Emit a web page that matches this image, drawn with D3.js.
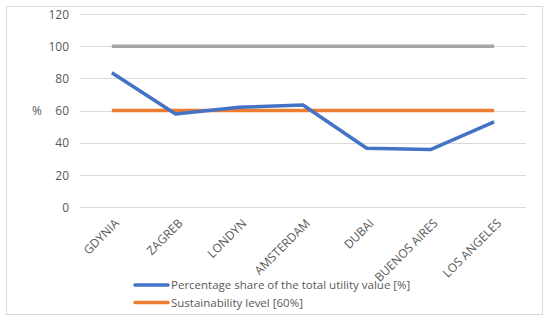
<!DOCTYPE html>
<html><head><meta charset="utf-8">
<script src="https://cdn.jsdelivr.net/npm/d3@7"></script>
<style>body{margin:0;background:#fff}svg{display:block}text{font-family:"Open Sans","Liberation Sans",sans-serif;fill:#595959}</style>
</head><body><svg id="c" width="550" height="322"></svg>
<script>
const categories = ["GDYNIA","ZAGREB","LONDYN","AMSTERDAM","DUBAI","BUENOS AIRES","LOS ANGELES"];
const utilityShare = [83.5, 57.8, 62, 63.4, 36.5, 35.7, 52.9];
const sustainability = [60, 60, 60, 60, 60, 60, 60];
const maxLevel = [100, 100, 100, 100, 100, 100, 100];
const yTicks = [0, 20, 40, 60, 80, 100, 120];
const legendLabels = ["Percentage share of the total utility value [%]", "Sustainability level [60%]"];

const svg = d3.select("#c");
svg.append("rect").attr("x",6.5).attr("y",6.5).attr("width",536).attr("height",308)
  .attr("fill","#fff").attr("stroke","#d9d9d9");

const x = d3.scaleBand().domain(categories).range([80, 526]);
const y = d3.scaleLinear().domain([0,120]).range([207, 14]);

const grid = svg.append("g");
grid.selectAll("line").data(yTicks).join("line")
  .attr("x1",80).attr("x2",526).attr("y1",d=>Math.round(y(d))+0.5).attr("y2",d=>Math.round(y(d))+0.5)
  .attr("stroke","#d9d9d9").attr("stroke-width",1);

const yAxis = svg.append("g").attr("transform","translate(75,0)")
  .call(d3.axisLeft(y).tickValues(yTicks).tickSize(0).tickPadding(6));
yAxis.select(".domain").remove();
yAxis.selectAll("text").style("font-size","12px").attr("fill","#595959").attr("dy","0.35em");

svg.append("text").attr("x",37).attr("y",y(60)).attr("dy","0.35em").attr("text-anchor","middle")
  .style("font-size","12px").text("%");

const xAxis = svg.append("g").attr("transform","translate(0,207)")
  .call(d3.axisBottom(x).tickSize(0).tickPadding(0));
xAxis.select(".domain").remove();
xAxis.selectAll("text").style("font-size","12px").attr("fill","#595959")
  .attr("text-anchor","end").attr("dy",0).attr("y",0)
  .attr("transform","translate(8,17) rotate(-45)");

const cx = d => x(d) + x.bandwidth()/2;
const line = d3.line().x((d,i)=>cx(categories[i])).y(d=>y(d));
svg.append("path").datum(maxLevel).attr("d",line).attr("fill","none").attr("stroke","#A5A5A5").attr("stroke-width",3.5);
svg.append("path").datum(sustainability).attr("d",line).attr("fill","none").attr("stroke","#ED7D31").attr("stroke-width",3.5);
svg.append("path").datum(utilityShare).attr("d",line).attr("fill","none").attr("stroke","#4472C4").attr("stroke-width",3.5).attr("stroke-linejoin","round");

const legColors = ["#4472C4","#ED7D31"];
const leg = svg.append("g");
legendLabels.forEach((t,i)=>{
  const ly = 285 + i*17.5;
  leg.append("line").attr("x1",135).attr("x2",168).attr("y1",ly).attr("y2",ly)
    .attr("stroke",legColors[i]).attr("stroke-width",3.5).attr("stroke-linecap","round");
  leg.append("text").attr("x",171).attr("y",ly).attr("dy","0.35em").style("font-size","11.5px").text(t);
});
</script></body></html>
